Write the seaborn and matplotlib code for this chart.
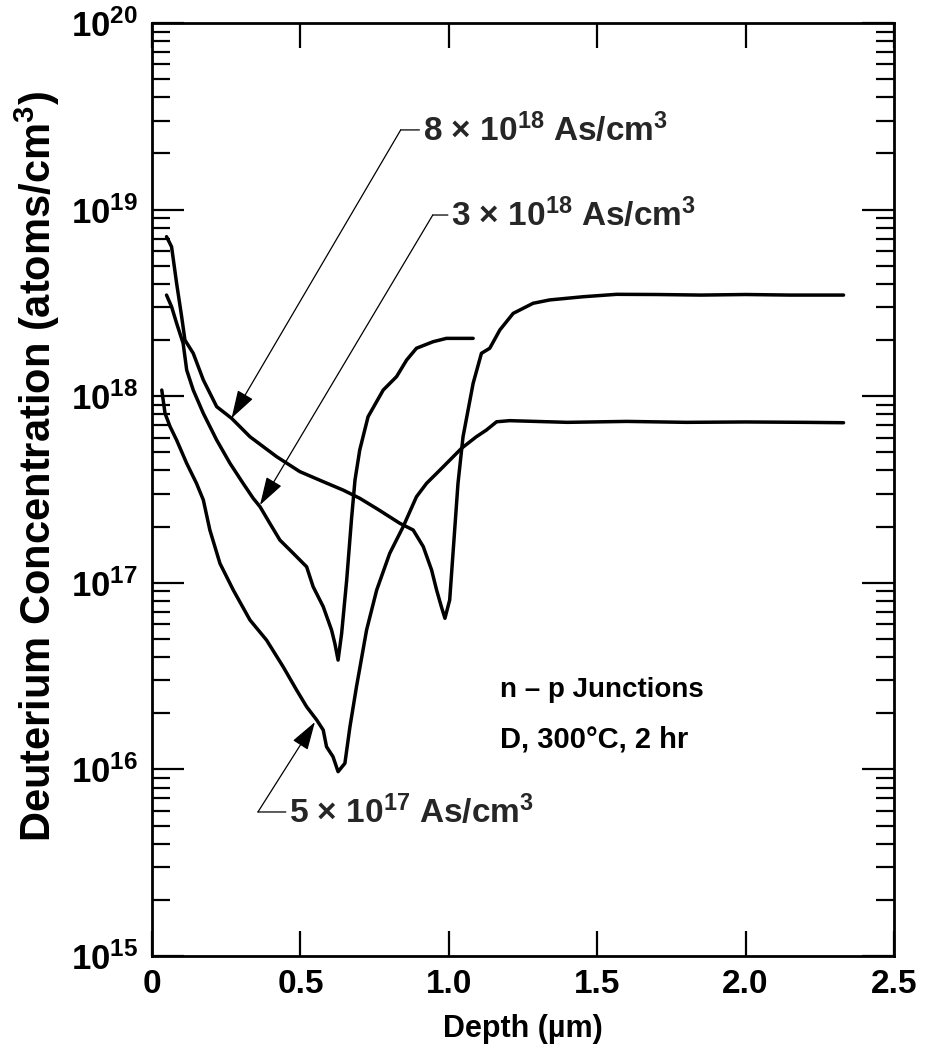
import numpy as np
import pandas as pd
import matplotlib
matplotlib.use("Agg")
import matplotlib.pyplot as plt
import seaborn as sns
from matplotlib.ticker import FixedLocator, NullLocator, LogLocator, NullFormatter

# ---------------- data ----------------
depth_8e18 = [0.049, 0.066, 0.083, 0.100, 0.111, 0.139, 0.173, 0.218, 0.268, 0.330,
              0.420, 0.498, 0.577, 0.644, 0.700, 0.760, 0.835, 0.880, 0.914, 0.942,
              0.959, 0.975, 0.987, 1.003, 1.015, 1.031, 1.048, 1.065, 1.082, 1.110,
              1.138, 1.172, 1.217, 1.284, 1.340, 1.452, 1.565, 1.700, 1.850, 2.000,
              2.150, 2.330]
log_8e18 = [18.855, 18.801, 18.605, 18.426, 18.301, 18.230, 18.087, 17.944, 17.882, 17.783,
            17.676, 17.596, 17.542, 17.497, 17.453, 17.395, 17.319, 17.283, 17.194, 17.069,
            16.961, 16.872, 16.810, 16.908, 17.176, 17.533, 17.783, 17.926, 18.069, 18.230,
            18.257, 18.355, 18.444, 18.498, 18.516, 18.533, 18.546, 18.545, 18.542, 18.545,
            18.542, 18.542]

depth_3e18 = [0.049, 0.066, 0.083, 0.105, 0.117, 0.139, 0.173, 0.218, 0.263, 0.307,
              0.341, 0.364, 0.397, 0.431, 0.476, 0.521, 0.543, 0.577, 0.605, 0.616,
              0.627, 0.639, 0.656, 0.672, 0.684, 0.700, 0.728, 0.779, 0.824, 0.858,
              0.891, 0.947, 0.992, 1.082]
log_3e18 = [18.542, 18.480, 18.391, 18.283, 18.140, 18.033, 17.908, 17.765, 17.640, 17.533,
            17.453, 17.408, 17.319, 17.229, 17.158, 17.086, 16.979, 16.872, 16.747, 16.676,
            16.586, 16.729, 17.015, 17.337, 17.551, 17.712, 17.890, 18.033, 18.105, 18.194,
            18.257, 18.292, 18.310, 18.310]

depth_5e17 = [0.033, 0.044, 0.061, 0.083, 0.117, 0.150, 0.173, 0.195, 0.229, 0.274,
              0.330, 0.386, 0.442, 0.487, 0.521, 0.555, 0.577, 0.588, 0.610, 0.627,
              0.650, 0.667, 0.689, 0.723, 0.757, 0.801, 0.846, 0.891, 0.925, 0.970,
              1.015, 1.043, 1.093, 1.127, 1.161, 1.205, 1.400, 1.600, 1.800, 2.000,
              2.200, 2.330]
log_5e17 = [18.033, 17.908, 17.837, 17.765, 17.640, 17.533, 17.444, 17.283, 17.104, 16.961,
            16.801, 16.693, 16.550, 16.426, 16.336, 16.265, 16.211, 16.122, 16.068, 15.988,
            16.033, 16.229, 16.443, 16.747, 16.961, 17.158, 17.300, 17.461, 17.533, 17.604,
            17.676, 17.721, 17.783, 17.819, 17.863, 17.869, 17.860, 17.865, 17.860, 17.862,
            17.860, 17.858]

series_labels = ["8e18", "3e18", "5e17"]
x_ticks = [0, 0.5, 1.0, 1.5, 2.0, 2.5]
x_ticklabels = ["0", "0.5", "1.0", "1.5", "2.0", "2.5"]
y_exponents = [15, 16, 17, 18, 19, 20]

frames = []
for lab, d, lg in zip(series_labels, [depth_8e18, depth_3e18, depth_5e17],
                      [log_8e18, log_3e18, log_5e17]):
    frames.append(pd.DataFrame({"depth": d, "conc": 10.0 ** np.array(lg), "series": lab}))
df = pd.concat(frames, ignore_index=True)

# ---------------- style ----------------
sns.set_theme(style="ticks")
plt.rcParams["font.family"] = ["Liberation Sans", "DejaVu Sans"]
plt.rcParams["font.weight"] = "bold"
plt.rcParams["mathtext.fontset"] = "custom"
plt.rcParams["mathtext.rm"] = "Liberation Sans:bold"
plt.rcParams["mathtext.it"] = "Liberation Sans:bold"
plt.rcParams["mathtext.bf"] = "Liberation Sans:bold"
plt.rcParams["mathtext.sf"] = "Liberation Sans:bold"

fig = plt.figure(figsize=(9.25, 10.55), dpi=100)
ax = fig.add_axes([0.1643, 0.0938, 0.8022, 0.8844])

sns.lineplot(data=df, x="depth", y="conc", hue="series", units="series",
             palette=["black"] * 3, sort=False, estimator=None, legend=False,
             linewidth=2.5, ax=ax)

ax.set_yscale("log")
ax.set_xlim(0, 2.5)
ax.set_ylim(1e15, 1e20)

ax.xaxis.set_major_locator(FixedLocator(x_ticks))
ax.set_xticklabels(x_ticklabels)
ax.xaxis.set_minor_locator(NullLocator())
ax.yaxis.set_major_locator(FixedLocator([10.0 ** e for e in y_exponents]))
ax.set_yticklabels([r"$10^{%d}$" % e for e in y_exponents])
ax.yaxis.set_minor_locator(LogLocator(base=10, subs=np.arange(2, 10), numticks=50))
ax.yaxis.set_minor_formatter(NullFormatter())

for s in ax.spines.values():
    s.set_linewidth(2.0)
    s.set_color("black")

ax.tick_params(which="both", direction="in", top=True, right=True, color="black",
               width=1.6, labelcolor="black")
ax.tick_params(axis="x", which="major", length=18, pad=9, labelsize=24)
ax.tick_params(axis="y", which="major", length=23, pad=10, labelsize=25)
ax.tick_params(axis="y", which="minor", length=13)

ax.set_xlabel("Depth (µm)", fontsize=22, fontweight="bold", color="black")
ax.set_ylabel(r"Deuterium Concentration (atoms/cm$^{3}$)", fontsize=30,
              fontweight="bold", color="black")
ax.xaxis.set_label_coords(0.5, -0.062)
ax.yaxis.set_label_coords(-0.121, 0.525)

# ---------------- annotations ----------------
arrow_kw = dict(arrowstyle="-|>,head_length=0.8,head_width=0.25", color="black",
                lw=0.9, shrinkA=0, shrinkB=0, mutation_scale=22)
line_kw = dict(arrowstyle="-", color="black", lw=0.9, shrinkA=0, shrinkB=0,
               relpos=(0, 0.5))
ann_fs = 24

# 8e18
ax.annotate("", xy=(0.268, 10 ** 17.882), xytext=(0.838, 10 ** 19.427),
            arrowprops=arrow_kw)
ax.annotate(r"8 $\times$ 10$^{18}$ As/cm$^{3}$", xy=(0.838, 10 ** 19.427),
            xytext=(0.912, 10 ** 19.427), ha="left", va="center", fontsize=ann_fs,
            fontweight="bold", arrowprops=line_kw)
# 3e18
ax.annotate("", xy=(0.364, 10 ** 17.417), xytext=(0.946, 10 ** 18.971),
            arrowprops=arrow_kw)
ax.annotate(r"3 $\times$ 10$^{18}$ As/cm$^{3}$", xy=(0.946, 10 ** 18.971),
            xytext=(1.008, 10 ** 18.971), ha="left", va="center", fontsize=ann_fs,
            fontweight="bold", arrowprops=line_kw)
# 5e17
ax.annotate("", xy=(0.549, 10 ** 16.254), xytext=(0.357, 10 ** 15.772),
            arrowprops=arrow_kw)
ax.annotate(r"5 $\times$ 10$^{17}$ As/cm$^{3}$", xy=(0.357, 10 ** 15.772),
            xytext=(0.462, 10 ** 15.772), ha="left", va="center", fontsize=ann_fs,
            fontweight="bold", arrowprops=line_kw)

ax.text(1.172, 10 ** 16.426, "n – p Junctions", ha="left", va="center",
        fontsize=20, fontweight="bold", color="black")
ax.text(1.172, 10 ** 16.158, "D, 300°C, 2 hr", ha="left", va="center",
        fontsize=21, fontweight="bold", color="black")

fig.savefig("out.png", dpi=100, facecolor="white")
